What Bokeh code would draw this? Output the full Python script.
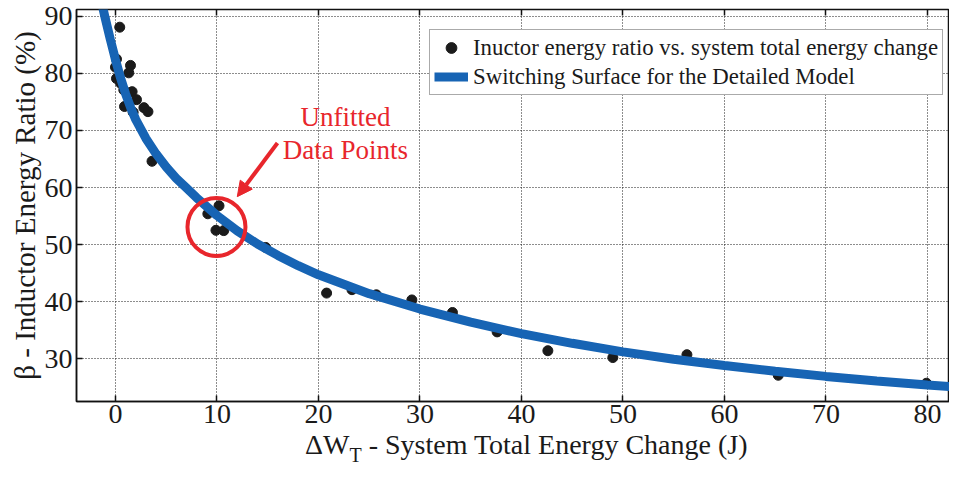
from bokeh.plotting import figure
from bokeh.models import (Label, Arrow, NormalHead, Range1d, Legend, LegendItem,
                          FixedTicker, LinearAxis, Div)
from bokeh.layouts import column
from bokeh.embed import file_html
from bokeh.resources import INLINE

# ---- data ----
dot_x = [0.42, 0.1, 0.0, 0.1, 0.5, 0.82, 1.64, 2.07, 0.89, 1.74, 2.8, 3.2, 3.6,
         1.48, 1.31,
         10.2, 9.1, 9.9, 10.67,
         14.8, 20.8, 23.3, 25.7, 29.2, 33.2, 37.6, 42.6, 49.0, 56.3, 65.3, 79.9]
dot_y = [88.1, 82.5, 81.1, 79.1, 78.3, 77.1, 76.8, 75.4, 74.2, 73.2, 74.0, 73.3, 64.6,
         81.4, 80.1,
         56.8, 55.4, 52.5, 52.45,
         49.5, 41.5, 42.1, 41.2, 40.3, 38.1, 34.7, 31.4, 30.2, 30.7, 27.1, 25.7]

curve_x = [-1.5, -1.0, -0.5, 0.0, 0.5, 1.0, 1.5, 2.0, 3.0, 4.0, 5.0, 6.0, 7.0, 8.0,
           10.0, 12.0, 14.0, 16.0, 18.0, 20.0, 25.0, 30.0, 35.0, 40.0, 45.0, 50.0,
           55.0, 60.0, 65.0, 70.0, 75.0, 80.0, 85.0]
curve_y = [93.5, 89.6, 85.9, 82.4, 79.2, 76.4, 74.0, 71.9, 68.6, 65.9, 63.6, 61.6, 59.9, 58.2,
           55.1, 52.4, 50.1, 48.1, 46.3, 44.7, 41.4, 38.7, 36.4, 34.4, 32.7, 31.2,
           29.9, 28.8, 27.8, 26.9, 26.1, 25.4, 24.75]

x_ticks = [0, 10, 20, 30, 40, 50, 60, 70, 80]
y_ticks = [30, 40, 50, 60, 70, 80, 90]

circle_center = (9.95, 53.1)
arrow_start = (15.96, 67.8)
arrow_end = (12.0, 58.4)
note_lines = ["Unfitted", "Data Points"]
note_x = 22.66
note_y = [72.3, 66.6]

legend_labels = ["Inuctor energy ratio vs. system total energy change",
                 "Switching Surface for the Detailed Model"]
y_title = "β - Inductor Energy Ratio (%)"
x_title_main = "ΔW"
x_title_sub = "T"
x_title_rest = " - System Total Energy Change (J)"

FONT = "Liberation Serif"
RED = "#E8262C"
BLUE = "#1764B4"
INK = "#1a1a1a"

p = figure(width=949, height=436, x_range=Range1d(-3.84, 82.17), y_range=Range1d(22.5, 91.2),
           output_backend="svg", toolbar_location=None,
           min_border_left=76, min_border_right=0, min_border_top=9, min_border_bottom=35)
p.background_fill_color = "white"
p.border_fill_color = "white"
p.outline_line_color = "#111111"
p.outline_line_width = 1.5

xa = p.below[0]
ya = p.left[0]
xg = p.xgrid[0]
yg = p.ygrid[0]

# grids
xg.ticker = FixedTicker(ticks=x_ticks)
yg.ticker = FixedTicker(ticks=y_ticks)
for g in (xg, yg):
    g.grid_line_color = "#1a1a1a"
    g.grid_line_dash = "1 2"
    g.grid_line_width = 1
    g.grid_line_alpha = 1.0

# top axis: inward ticks only, empty labels
top_axis = LinearAxis(ticker=FixedTicker(ticks=x_ticks),
                      major_label_overrides={t: "" for t in x_ticks},
                      major_label_text_font_size="1px",
                      major_label_standoff=0, axis_line_color=None)
p.add_layout(top_axis, "above")

xa.ticker = FixedTicker(ticks=x_ticks)
ya.ticker = FixedTicker(ticks=y_ticks)
for ax in (xa, ya, top_axis):
    ax.major_tick_in = 6
    ax.major_tick_out = 0
    ax.minor_tick_line_color = None
    ax.major_tick_line_color = "#111111"
    ax.major_tick_line_width = 1.5
for ax in (xa, ya):
    ax.axis_line_color = "#111111"
    ax.axis_line_width = 1.5
    ax.major_label_text_font = FONT
    ax.major_label_text_font_size = "28px"
    ax.major_label_text_color = INK
xa.major_label_standoff = 3
ya.major_label_standoff = 4

ya.axis_label = y_title
ya.axis_label_text_font = FONT
ya.axis_label_text_font_size = "29px"
ya.axis_label_text_font_style = "normal"
ya.axis_label_text_color = INK
ya.axis_label_standoff = 1

# data
sc = p.scatter(dot_x, dot_y, size=10, color="#1b1b1b")
ln = p.line(curve_x, curve_y, line_width=9, color=BLUE)

# annotation: circle, arrow, text
p.scatter([circle_center[0]], [circle_center[1]], marker="circle", size=58,
          fill_color=None, line_color=RED, line_width=4)
p.add_layout(Arrow(end=NormalHead(size=15, fill_color=RED, line_color=RED, line_width=1),
                   x_start=arrow_start[0], y_start=arrow_start[1],
                   x_end=arrow_end[0], y_end=arrow_end[1],
                   line_color=RED, line_width=4))
for t, yy in zip(note_lines, note_y):
    p.add_layout(Label(x=note_x, y=yy, text=t, text_align="center", text_baseline="middle",
                       text_font=FONT, text_font_size="27px", text_color=RED))

legend = Legend(items=[LegendItem(label=legend_labels[0], renderers=[sc]),
                       LegendItem(label=legend_labels[1], renderers=[ln])],
                location=(353, 306))
legend.label_text_font = FONT
legend.label_text_font_size = "22.8px"
legend.label_text_color = INK
legend.padding = 4
legend.spacing = 2
legend.margin = 0
legend.glyph_width = 34
legend.glyph_height = 27
legend.label_height = 27
legend.label_standoff = 5
legend.border_line_color = "#555555"
legend.border_line_width = 1.5
legend.background_fill_color = "white"
legend.background_fill_alpha = 1.0
p.add_layout(legend)

# x axis title (with subscript) as real text below the plot
title_html = (
    '<div style="font-family:\'Liberation Serif\';font-size:28px;line-height:18px;'
    'padding-left:305px;color:%s;white-space:nowrap;margin:0;">'
    '%s<span style="font-size:20px;position:relative;top:8px;">%s</span>%s</div>'
    % (INK, x_title_main, x_title_sub, x_title_rest)
)
xtitle = Div(text=title_html, width=949, height=28, margin=(0, 0, 0, 0))

layout = column(p, xtitle, spacing=0)
open("out.html", "w").write(file_html(layout, INLINE))
